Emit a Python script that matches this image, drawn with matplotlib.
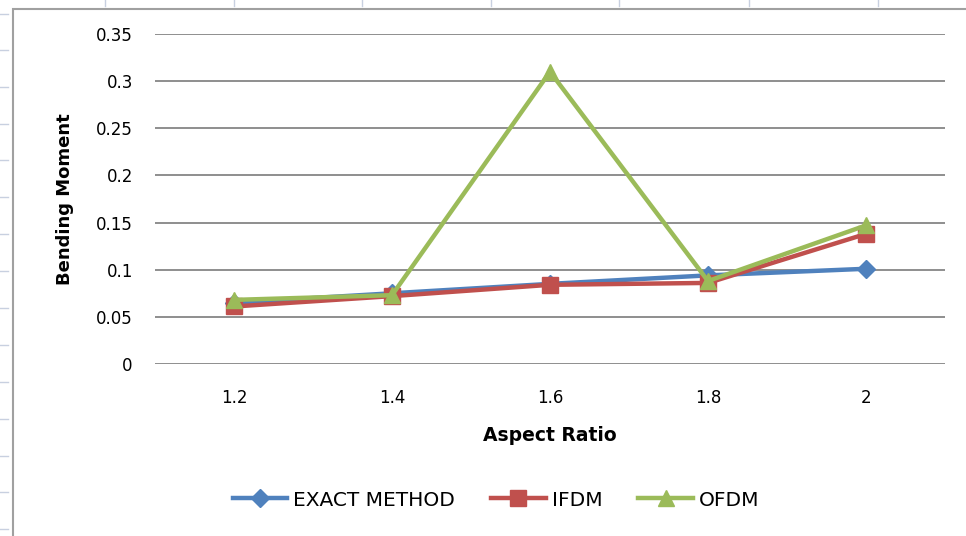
import matplotlib.pyplot as plt
from matplotlib.patches import Rectangle
from matplotlib.lines import Line2D

# data
aspect_ratio = ['1.2', '1.4', '1.6', '1.8', '2']
exact_method = [0.065, 0.075, 0.085, 0.094, 0.101]
ifdm = [0.061, 0.072, 0.084, 0.086, 0.138]
ofdm = [0.068, 0.073, 0.310, 0.088, 0.147]
y_ticks = [0, 0.05, 0.1, 0.15, 0.2, 0.25, 0.3, 0.35]

plt.rcParams['font.family'] = ['DejaVu Sans']

fig = plt.figure(figsize=(9.66, 5.36), dpi=100)
W, H = 966, 536

# spreadsheet border / row + column marks around the chart object
fig.patches.append(Rectangle((13 / W, -0.1), 1.2, 1 - 9 / H + 0.1, transform=fig.transFigure,
                             fill=False, edgecolor='#a0a0a0', linewidth=1.5))
for xm in [105, 234, 362, 491, 619, 749, 878]:
    fig.lines.append(Line2D([xm / W, xm / W], [1, 1 - 6 / H], transform=fig.transFigure,
                            color='#c8d0e0', linewidth=1))
for ym in [14, 50, 87, 124, 160, 197, 234, 271, 308, 345, 382, 419, 456, 492, 529]:
    fig.lines.append(Line2D([0, 8 / W], [1 - ym / H, 1 - ym / H], transform=fig.transFigure,
                            color='#c8d0e0', linewidth=1))

ax = fig.add_axes([155 / W, 1 - 364 / H, (945 - 155) / W, (364 - 34) / H])
x = range(len(aspect_ratio))

ax.plot(x, exact_method, color='#4F81BD', linewidth=3.2, marker='D', markersize=9,
        label='EXACT METHOD', zorder=3)
ax.plot(x, ifdm, color='#C0504D', linewidth=3.2, marker='s', markersize=11,
        label='IFDM', zorder=4)
ax.plot(x, ofdm, color='#9BBB59', linewidth=3.2, marker='^', markersize=12,
        label='OFDM', zorder=5)

ax.set_xlim(-0.5, len(aspect_ratio) - 0.5)
ax.set_ylim(0, 0.35)
ax.set_yticks(y_ticks)
ax.set_yticklabels(['0', '0.05', '0.1', '0.15', '0.2', '0.25', '0.3', '0.35'])
ax.set_xticks(list(x))
ax.set_xticklabels(aspect_ratio)
ax.tick_params(axis='both', length=0, labelsize=12, colors='#000000')
ax.tick_params(axis='y', pad=16)
ax.tick_params(axis='x', pad=18)
ax.yaxis.grid(True, color='#868686', linewidth=1.3)
ax.set_axisbelow(True)
for s in ax.spines.values():
    s.set_visible(False)

ax.set_xlabel('Aspect Ratio', fontsize=13.5, fontweight='bold')
ax.set_ylabel('Bending Moment', fontsize=13, fontweight='bold')
ax.xaxis.set_label_coords(0.5, -(426 - 364) / 330)
ax.yaxis.set_label_coords(-(155 - 74) / 790, 0.5)

ax.legend(loc='center', bbox_to_anchor=((496 - 155) / 790, -(500 - 364) / 330), ncol=3,
          frameon=False, fontsize=14.5, handlelength=2.7, columnspacing=1.8,
          handletextpad=0.3)

fig.savefig('out.png', dpi=100)
